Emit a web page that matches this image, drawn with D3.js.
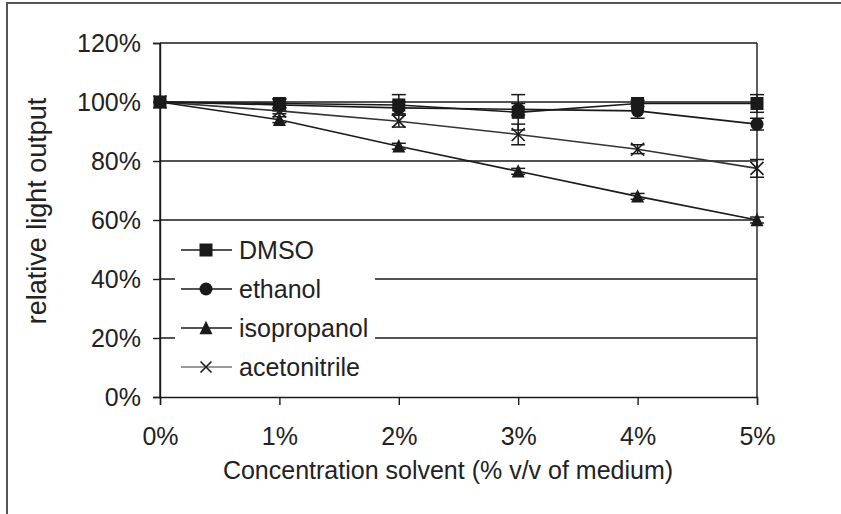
<!DOCTYPE html>
<html><head><meta charset="utf-8">
<script src="https://cdn.jsdelivr.net/npm/d3@7"></script>
<style>html,body{margin:0;padding:0;background:#fff;}svg{display:block;font-family:"Liberation Sans",Arial,sans-serif;}</style>
</head><body>
<svg id="c" width="841" height="514"></svg>
<script>
const concentrations = [0, 1, 2, 3, 4, 5];
const xTickLabels = ["0%", "1%", "2%", "3%", "4%", "5%"];
const yTicks = [0, 20, 40, 60, 80, 100, 120];
const seriesNames = ["DMSO", "ethanol", "isopropanol", "acetonitrile"];
const dmso = [100, 99.5, 99, 96.5, 99.5, 99.5];
const dmsoErr = [0, 1.5, 3.5, 6, 1, 3];
const ethanol = [100, 99, 98, 97.5, 97, 92.5];
const ethanolErr = [0, 2, 2, 2, 2.5, 2];
const isopropanol = [100, 94, 85, 76.5, 68, 60];
const isopropanolErr = [0, 1, 1, 1, 1, 1];
const acetonitrile = [100, 97, 93.5, 89, 84, 77.5];
const acetonitrileErr = [0, 1, 2, 3.5, 1.5, 3];
const xTitle = "Concentration solvent (% v/v of medium)";
const yTitle = "relative light output";

const series = [
  {name: seriesNames[0], values: dmso, err: dmsoErr, marker: "square"},
  {name: seriesNames[1], values: ethanol, err: ethanolErr, marker: "circle"},
  {name: seriesNames[2], values: isopropanol, err: isopropanolErr, marker: "triangle"},
  {name: seriesNames[3], values: acetonitrile, err: acetonitrileErr, marker: "cross"}
];

const svg = d3.select("#c");
const L = 160, R = 757, T = 43, B = 397;
const x = d3.scaleLinear().domain([0, 5]).range([L, R]);
const y = d3.scaleLinear().domain([0, 120]).range([B, T]);
const ink = "#1a1a1a";
const fs = 25;

// outer frame
svg.append("path").attr("d", "M7,520 L7,3 L850,3").attr("fill", "none").attr("stroke", "#555").attr("stroke-width", 2);

// gridlines
const grid = svg.append("g");
yTicks.filter(v => v > 0).forEach(v => {
  grid.append("line").attr("x1", L).attr("x2", R).attr("y1", y(v)).attr("y2", y(v))
    .attr("stroke", ink).attr("stroke-width", 1.4);
});
// plot frame
svg.append("line").attr("x1", L).attr("x2", L).attr("y1", T).attr("y2", B).attr("stroke", ink).attr("stroke-width", 1.4);
svg.append("line").attr("x1", R).attr("x2", R).attr("y1", T).attr("y2", B).attr("stroke", ink).attr("stroke-width", 1.4);

// axes
const yAxis = d3.axisLeft(y).tickValues(yTicks).tickFormat(d => d + "%").tickSize(7).tickPadding(12);
const gy = svg.append("g").attr("transform", `translate(${L},0)`).call(yAxis);
const xAxis = d3.axisBottom(x).tickValues(concentrations).tickFormat((d, i) => xTickLabels[i]).tickSize(8).tickPadding(22);
const gx = svg.append("g").attr("transform", `translate(0,${B})`).call(xAxis);
[gx, gy].forEach(g => {
  g.select(".domain").attr("stroke", ink).attr("stroke-width", 1.4);
  g.selectAll(".tick line").attr("stroke", ink).attr("stroke-width", 1.4);
  g.selectAll(".tick text").attr("font-size", fs).attr("fill", "#222").attr("font-family", "Liberation Sans, Arial, sans-serif");
});

// axis titles
svg.append("text").attr("x", 448).attr("y", 479)
  .attr("text-anchor", "middle").attr("font-size", fs).attr("fill", "#222").text(xTitle);
svg.append("text").attr("transform", `translate(46,211) rotate(-90)`)
  .attr("text-anchor", "middle").attr("font-size", 27).attr("fill", "#222").text(yTitle);

// markers
function drawMarker(g, type, cx, cy, s) {
  if (type === "square") {
    g.append("rect").attr("x", cx - s / 2).attr("y", cy - s / 2).attr("width", s).attr("height", s).attr("fill", ink);
  } else if (type === "circle") {
    g.append("circle").attr("cx", cx).attr("cy", cy).attr("r", s / 2).attr("fill", ink);
  } else if (type === "triangle") {
    const h = s * 0.95;
    g.append("path").attr("d", `M${cx},${cy - h / 2 - 1} L${cx + s / 2},${cy + h / 2} L${cx - s / 2},${cy + h / 2} Z`).attr("fill", ink);
  } else {
    const r = s / 2;
    g.append("path").attr("d", `M${cx - r},${cy - r} L${cx + r},${cy + r} M${cx - r},${cy + r} L${cx + r},${cy - r}`)
      .attr("stroke", ink).attr("stroke-width", 1.6);
  }
}

const plot = svg.append("g");
const line = d3.line().x((d, i) => x(concentrations[i])).y(d => y(d));
series.slice().reverse().forEach(s => {
  const lg = plot.append("g");
  lg.append("path").datum(s.values).attr("d", line).attr("fill", "none")
    .attr("stroke", s.marker === "cross" ? "#333" : ink).attr("stroke-width", 1.6);
  s.values.forEach((v, i) => {
    const e = s.err[i];
    if (e > 0) {
      const cx = x(concentrations[i]);
      lg.append("line").attr("x1", cx).attr("x2", cx).attr("y1", y(v + e)).attr("y2", y(v - e)).attr("stroke", ink).attr("stroke-width", 1.5);
      [v + e, v - e].forEach(w => lg.append("line").attr("x1", cx - 7).attr("x2", cx + 7).attr("y1", y(w)).attr("y2", y(w)).attr("stroke", ink).attr("stroke-width", 1.5));
    }
    drawMarker(lg, s.marker, x(concentrations[i]), y(v), 13);
  });
});

// legend
const leg = svg.append("g");
leg.append("rect").attr("x", 175).attr("y", 232).attr("width", 200).attr("height", 153).attr("fill", "#fff");
series.forEach((s, i) => {
  const ly = 250 + i * 39;
  leg.append("line").attr("x1", 181).attr("x2", 232).attr("y1", ly).attr("y2", ly)
    .attr("stroke", s.marker === "cross" ? "#777" : ink).attr("stroke-width", 1.6);
  drawMarker(leg, s.marker, 206, ly, s.marker === "cross" ? 11 : 13);
  leg.append("text").attr("x", 239).attr("y", ly + 9).attr("font-size", fs).attr("fill", "#222").text(s.name);
});
</script>
</body></html>
